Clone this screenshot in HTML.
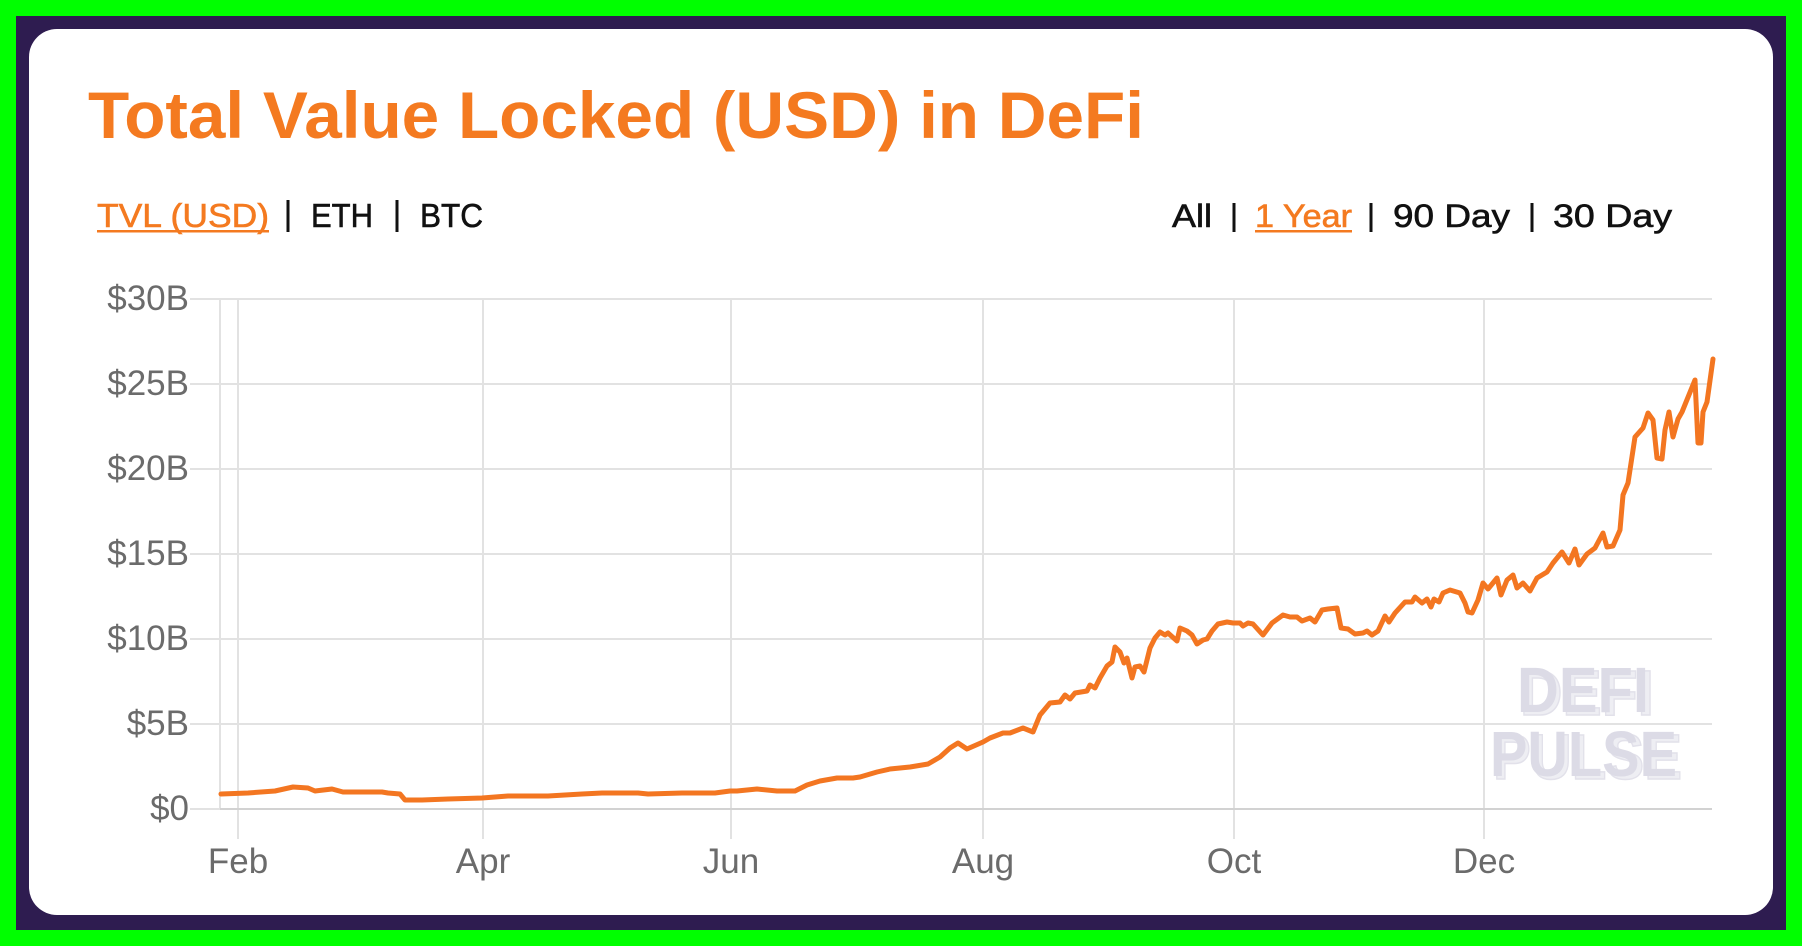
<!DOCTYPE html>
<html>
<head>
<meta charset="utf-8">
<style>
  html,body{margin:0;padding:0;background:#00ff00;}
  body{width:1802px;height:946px;overflow:hidden;}
  svg{display:block;}
</style>
</head>
<body>
<svg width="1802" height="946" viewBox="0 0 1802 946" xmlns="http://www.w3.org/2000/svg">
  <!-- frame -->
  <rect x="0" y="0" width="1802" height="946" fill="#00ff00"/>
  <rect x="16" y="16" width="1770" height="914" fill="#2e1c50"/>
  <rect x="29" y="29" width="1744" height="886" rx="28" ry="28" fill="#ffffff"/>

  <!-- title -->
  <text x="88" y="138" font-family="Liberation Sans, Arial, sans-serif" font-weight="bold" font-size="66" fill="#f47a20" textLength="1056" lengthAdjust="spacingAndGlyphs">Total Value Locked (USD) in DeFi</text>

  <!-- left sub nav -->
  <g font-family="Liberation Sans, Arial, sans-serif" font-size="33" stroke-width="0.6">
    <text x="97" y="227" fill="#f47a20" stroke="#f47a20" textLength="172" lengthAdjust="spacingAndGlyphs">TVL (USD)</text>
    <rect x="97" y="230" width="172" height="2.5" fill="#f47a20"/>
    <rect x="286.5" y="200" width="3" height="32" fill="#111"/>
    <text x="311" y="227" fill="#111" stroke="#111" textLength="62" lengthAdjust="spacingAndGlyphs">ETH</text>
    <rect x="395.5" y="200" width="3" height="32" fill="#111"/>
    <text x="420" y="227" fill="#111" stroke="#111" textLength="63" lengthAdjust="spacingAndGlyphs">BTC</text>
  </g>

  <!-- right nav -->
  <g font-family="Liberation Sans, Arial, sans-serif" font-size="32" stroke-width="0.6">
    <text x="1172" y="227" fill="#111" stroke="#111" textLength="40" lengthAdjust="spacingAndGlyphs">All</text>
    <rect x="1232.5" y="203" width="3" height="29" fill="#111"/>
    <text x="1255" y="227" fill="#f47a20" stroke="#f47a20" textLength="97" lengthAdjust="spacingAndGlyphs">1 Year</text>
    <rect x="1255" y="230" width="97" height="2.5" fill="#f47a20"/>
    <rect x="1369.5" y="203" width="3" height="29" fill="#111"/>
    <text x="1393" y="227" fill="#111" stroke="#111" textLength="117" lengthAdjust="spacingAndGlyphs">90 Day</text>
    <rect x="1530.5" y="203" width="3" height="29" fill="#111"/>
    <text x="1553" y="227" fill="#111" stroke="#111" textLength="119" lengthAdjust="spacingAndGlyphs">30 Day</text>
  </g>

  <!-- watermark -->
  <g font-family="Liberation Sans, Arial, sans-serif" font-weight="bold" font-size="64">
    <text x="1520" y="715" fill="#eeeef3" stroke="#e2e1ea" stroke-width="1.5" textLength="134" lengthAdjust="spacingAndGlyphs">DEFI</text>
    <text x="1517" y="712" fill="#dcdbe6" textLength="132" lengthAdjust="spacingAndGlyphs">DEFI</text>
    <text x="1493" y="779" fill="#eeeef3" stroke="#e2e1ea" stroke-width="1.5" textLength="189" lengthAdjust="spacingAndGlyphs">PULSE</text>
    <text x="1490" y="776" fill="#dcdbe6" textLength="187" lengthAdjust="spacingAndGlyphs">PULSE</text>
  </g>

  <!-- gridlines -->
  <g stroke="#e2e2e2" stroke-width="2">
    <line x1="190" y1="299" x2="1712" y2="299"/>
    <line x1="190" y1="384" x2="1712" y2="384"/>
    <line x1="190" y1="469" x2="1712" y2="469"/>
    <line x1="190" y1="554" x2="1712" y2="554"/>
    <line x1="190" y1="639" x2="1712" y2="639"/>
    <line x1="190" y1="724" x2="1712" y2="724"/>
    <line x1="220" y1="299" x2="220" y2="809"/>
    <line x1="238" y1="299" x2="238" y2="839"/>
    <line x1="483" y1="299" x2="483" y2="839"/>
    <line x1="731" y1="299" x2="731" y2="839"/>
    <line x1="983" y1="299" x2="983" y2="839"/>
    <line x1="1234" y1="299" x2="1234" y2="839"/>
    <line x1="1484" y1="299" x2="1484" y2="839"/>
  </g>
  <line x1="190" y1="809" x2="220" y2="809" stroke="#e2e2e2" stroke-width="2"/>
  <line x1="220" y1="809" x2="1712" y2="809" stroke="#d2d2d2" stroke-width="2"/>

  <!-- y labels -->
  <g font-family="Liberation Sans, Arial, sans-serif" font-size="35" fill="#6b6b6b" text-anchor="end">
    <text x="189" y="310">$30B</text>
    <text x="189" y="395">$25B</text>
    <text x="189" y="480">$20B</text>
    <text x="189" y="565">$15B</text>
    <text x="189" y="650">$10B</text>
    <text x="189" y="735">$5B</text>
    <text x="189" y="820">$0</text>
  </g>

  <!-- x labels -->
  <g font-family="Liberation Sans, Arial, sans-serif" font-size="35" fill="#6b6b6b" text-anchor="middle">
    <text x="238" y="873">Feb</text>
    <text x="483" y="873">Apr</text>
    <text x="731" y="873">Jun</text>
    <text x="983" y="873">Aug</text>
    <text x="1234" y="873">Oct</text>
    <text x="1484" y="873">Dec</text>
  </g>

  <!-- series -->
  <polyline fill="none" stroke="#f37621" stroke-width="5" stroke-linejoin="round" stroke-linecap="round" points="
221,794 248,793 275,791 293,787 308,788 315,791 332,789 343,792 382,792 388,793 400,794 405,800 422,800 448,799 482,798 508,796 548,796 582,794 602,793 638,793 648,794 682,793 715,793 730,791
737,791 757,789 777,791 795,791 807,785 820,781 837,778 853,778 860,777 877,772 890,769 910,767 928,764 940,757 950,748 958,743 967,749 983,742 990,738 1003,733
1010,733 1023,728 1033,732 1040,715 1050,703 1060,702 1065,695 1070,699 1075,693 1087,691 1090,685 1095,688 1100,678 1107,666 1112,662 1115,647 1120,652 1124,663 1127,658 1132,678 1135,667 1140,666 1144,672 1150,648 1155,638 1160,632 1165,635 1168,633 1177,641 1180,628 1187,631 1192,635 1197,644 1203,640 1207,639 1212,631 1218,624 1227,622 1233,623 1240,623 1243,626 1248,623 1253,624 1263,635 1272,623 1283,615 1290,617 1297,617 1302,621 1310,618 1315,622 1322,610 1328,609 1337,608
1341,628 1348,629 1355,634 1363,633 1367,631 1372,635 1378,631 1385,616 1389,622 1395,613 1405,602 1412,602 1415,597 1422,603 1427,599 1431,607 1434,599 1439,602 1443,593 1450,590 1460,593 1465,603 1468,612 1472,613 1478,600 1483,583 1488,589 1497,578 1501,595 1507,580 1513,575 1517,588 1523,583 1530,591 1537,578 1547,572 1553,563 1562,552 1569,563 1575,549 1579,565 1587,554 1595,548 1603,533 1607,547 1613,546 1620,530 1623,495 1628,483 1635,437 1643,428 1648,413 1653,420 1657,458 1662,459 1665,430 1669,412 1673,437 1678,419 1682,412 1695,380 1698,443 1701,443 1703,412 1707,402 1713,359"/>
</svg>
</body>
</html>
